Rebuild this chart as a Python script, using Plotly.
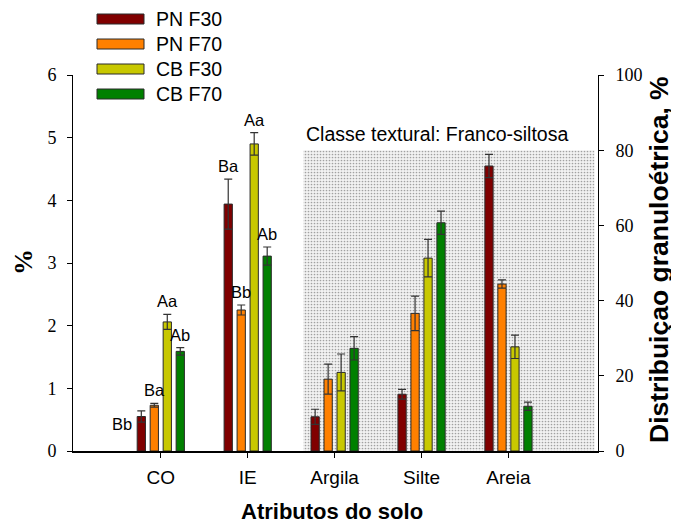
import plotly.graph_objects as go

# ---------------- data ----------------
categories = ["CO", "IE", "Argila", "Silte", "Areia"]
series_names = ["PN F30", "PN F70", "CB F30", "CB F70"]
# values: CO, IE on left axis (%); Argila, Silte, Areia on right axis (granulometry %)
pn_f30 = [0.55, 3.94, 9.1, 15.1, 75.8]
pn_f70 = [0.73, 2.25, 19.1, 36.6, 44.4]
cb_f30 = [2.06, 4.90, 20.9, 51.3, 27.7]
cb_f70 = [1.59, 3.11, 27.3, 60.7, 11.9]
pn_f30_err = [0.09, 0.40, 2.0, 1.3, 3.1]
pn_f70_err = [0.03, 0.08, 4.0, 4.6, 1.1]
cb_f30_err = [0.12, 0.18, 4.9, 5.0, 3.1]
cb_f70_err = [0.06, 0.145, 3.1, 3.1, 1.1]
# significance letters for CO and IE
letters_co = ["Bb", "Ba", "Aa", "Ab"]
letters_ie = ["Ba", "Bb", "Aa", "Ab"]
shade_top = 80  # textural class band top (right axis %)
shade_label = "Classe textural: Franco-siltosa"

values = [pn_f30, pn_f70, cb_f30, cb_f70]
errors = [pn_f30_err, pn_f70_err, cb_f30_err, cb_f70_err]
colors = ["#800000", "#ff8000", "#c8c800", "#008000"]

LEFT_N = 2  # first two categories on left axis
SLOT = 0.1494
BAR_W = 0.095
SHADE_X0, SHADE_X1 = 1.64, 4.99

# layout geometry (page pixels; the page body adds an 8px offset)
OFF = 8
W, H = 679 - OFF, 527 - OFF
ML, MT = 73 - OFF, 75 - OFF
MR = W - (598 - OFF)
MB = H - (451 - OFF)
PW, PH = W - ML - MR, H - MT - MB


def pxx(x):
    return (x - OFF - ML) / PW


def pxy(y):
    return 1 - (y - OFF - MT) / PH


fig = go.Figure()

# shaded band (first on y2, so bars are drawn over it)
fig.add_trace(go.Bar(
    x=[(SHADE_X0 + SHADE_X1) / 2], y=[shade_top], width=[SHADE_X1 - SHADE_X0],
    yaxis="y2", showlegend=False, hoverinfo="skip",
    marker=dict(color="white", line=dict(width=0),
                pattern=dict(shape=".", fgcolor="#505050", bgcolor="#f2f2f2",
                             size=3, solidity=0.25)),
))

idx = list(range(len(categories)))
for i, (name, vals, errs, col) in enumerate(zip(series_names, values, errors, colors)):
    off = (i - 1.5) * SLOT - BAR_W / 2
    common = dict(
        name=name, width=BAR_W, offset=off, legendgroup=name, showlegend=False,
        marker=dict(color=col, line=dict(color="#2a2a2a", width=1)),
    )
    fig.add_trace(go.Bar(
        x=idx[:LEFT_N], y=vals[:LEFT_N], yaxis="y",
        error_y=dict(type="data", array=errs[:LEFT_N], color="#333333",
                     thickness=1.2, width=4),
        **common))
    fig.add_trace(go.Bar(
        x=idx[LEFT_N:], y=vals[LEFT_N:], yaxis="y2",
        error_y=dict(type="data", array=errs[LEFT_N:], color="#333333",
                     thickness=1.2, width=4),
        **common))

annotations = []
# significance letters
for gi, letters in enumerate([letters_co, letters_ie]):
    for i, lab in enumerate(letters):
        xc = gi + (i - 1.5) * SLOT
        top = values[i][gi] + errors[i][gi]
        if gi == 0 and i == 0:
            annotations.append(dict(x=xc - BAR_W / 2, y=values[i][gi], xref="x", yref="y",
                                    text=lab, showarrow=False, xanchor="right",
                                    yanchor="middle", xshift=-3, yshift=-7,
                                    font=dict(family="Liberation Sans", size=16.5, color="black")))
        else:
            annotations.append(dict(x=xc, y=top, xref="x", yref="y", text=lab,
                                    showarrow=False, xanchor="center", yanchor="middle",
                                    yshift=13,
                                    font=dict(family="Liberation Sans", size=16.5, color="black")))

# band label
annotations.append(dict(x=SHADE_X0, y=shade_top, xref="x", yref="y2", text=shade_label,
                        showarrow=False, xanchor="left", yanchor="bottom", xshift=1, yshift=3,
                        font=dict(family="Liberation Sans", size=19.5, color="black")))

# axis titles
annotations.append(dict(x=pxx(23), y=pxy(262), xref="paper", yref="paper", text="<b>%</b>",
                        textangle=-90, showarrow=False, xanchor="center", yanchor="middle",
                        font=dict(family="Liberation Serif", size=26, color="black")))
annotations.append(dict(x=pxx(659), y=pxy(260), xref="paper", yref="paper",
                        text="<b>Distribuiçao granuloétrica, %</b>",
                        textangle=-90, showarrow=False, xanchor="center", yanchor="middle",
                        font=dict(family="Liberation Sans", size=26.5, color="black")))
annotations.append(dict(x=pxx(332), y=pxy(512), xref="paper", yref="paper",
                        text="<b>Atributos do solo</b>", showarrow=False,
                        xanchor="center", yanchor="middle",
                        font=dict(family="Liberation Sans", size=22, color="black")))

# manual legend
shapes = []
row_y = [19, 44, 69, 94]
for name, col, ry in zip(series_names, colors, row_y):
    shapes.append(dict(type="rect", xref="paper", yref="paper",
                       x0=pxx(97), x1=pxx(144), y0=pxy(ry + 5), y1=pxy(ry - 5),
                       fillcolor=col, line=dict(color="#2a2a2a", width=1)))
    annotations.append(dict(x=pxx(154), y=pxy(ry), xref="paper", yref="paper", text=name,
                            showarrow=False, xanchor="left", yanchor="middle",
                            font=dict(family="Liberation Sans", size=19.5, color="black")))

fig.update_layout(
    width=W, height=H, margin=dict(l=ML, r=MR, t=MT, b=MB),
    paper_bgcolor="white", plot_bgcolor="white",
    barmode="overlay", showlegend=False,
    annotations=annotations, shapes=shapes,
    xaxis=dict(range=[-1.01, 5.03], tickmode="array", tickvals=idx, ticktext=categories,
               showline=True, linecolor="black", linewidth=1.5, ticks="outside",
               ticklen=5, tickcolor="black", showgrid=False, zeroline=False,
               tickfont=dict(family="Liberation Sans", size=19, color="black"),
               ticklabelstandoff=3),
    yaxis=dict(range=[0, 6], dtick=1, showline=True, linecolor="black", linewidth=1,
               ticks="outside", ticklen=5, tickcolor="black", showgrid=False,
               zeroline=False, ticklabelstandoff=7,
               tickfont=dict(family="Liberation Serif", size=18, color="black")),
    yaxis2=dict(range=[0, 100], dtick=20, overlaying="y", side="right", showline=True,
                linecolor="black", linewidth=1, ticks="outside", ticklen=5,
                tickcolor="black", showgrid=False, zeroline=False, ticklabelstandoff=8,
                tickfont=dict(family="Liberation Serif", size=18, color="black")),
)

fig.write_html("out.html")
